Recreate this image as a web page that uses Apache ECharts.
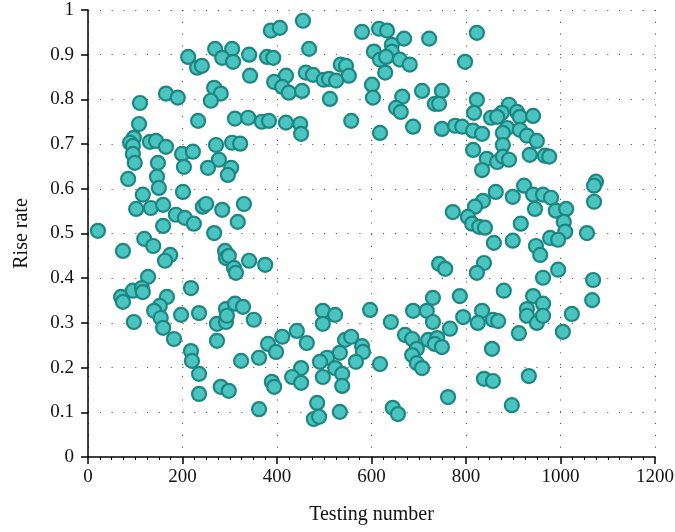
<!DOCTYPE html>
<html>
<head>
<meta charset="utf-8">
<title>Rise rate</title>
<script src="https://cdn.jsdelivr.net/npm/echarts@6/dist/echarts.min.js"></script>
<style>
    html, body { margin: 0; padding: 0; background: #fff; }
    #riseChart { width: 675px; height: 532px; }
</style>
</head>
<body>
<div id="riseChart"></div>
<script>
// x: testing number, y: rise rate
var testingNumber = [
    387, 269, 305, 212, 284, 307, 341, 379, 231, 241, 343, 165, 190, 110, 267, 281, 260, 233, 108, 311,
    339, 368, 383, 97, 89, 95, 95, 131, 144, 165, 199, 222, 271, 305, 322, 277, 148, 406, 455, 468,
    392, 580, 616, 633, 669, 722, 605, 643, 643, 618, 631, 660, 681, 629, 535, 546, 552, 461, 476, 419,
    394, 411, 425, 453, 499, 510, 525, 512, 601, 603, 665, 652, 662, 707, 749, 734, 743, 419, 449, 451,
    557, 618, 688, 749, 777, 823, 798, 823, 817, 891, 876, 853, 866, 908, 914, 942, 792, 815, 834, 887,
    878, 914, 929, 950, 878, 815, 844, 866, 878, 891, 935, 967, 976, 99, 203, 254, 303, 296, 85, 146,
    150, 201, 116, 102, 133, 159, 186, 205, 224, 243, 250, 284, 330, 317, 159, 21, 267, 119, 138, 74,
    174, 163, 290, 292, 298, 309, 313, 341, 375, 127, 218, 70, 74, 95, 114, 116, 167, 152, 140, 197,
    235, 292, 311, 328, 772, 743, 756, 730, 787, 497, 523, 597, 688, 717, 834, 1075, 1071, 1071, 863, 923,
    899, 942, 963, 980, 946, 990, 1012, 1007, 1010, 978, 995, 836, 819, 804, 813, 828, 840, 916, 859, 899,
    948, 957, 1056, 838, 823, 995, 963, 1069, 880, 942, 963, 1067, 834, 929, 1024, 154, 159, 97, 182, 273,
    292, 294, 351, 273, 218, 220, 235, 235, 281, 298, 324, 362, 381, 389, 394, 362, 497, 641, 730, 766,
    442, 411, 398, 463, 544, 557, 580, 582, 567, 533, 506, 491, 618, 671, 686, 696, 686, 696, 707, 720,
    739, 734, 749, 451, 432, 451, 497, 523, 538, 538, 485, 478, 489, 533, 645, 656, 762, 794, 825, 857,
    868, 929, 950, 963, 912, 1005, 855, 838, 857, 933, 897
];
var riseRate = [
    0.954, 0.913, 0.913, 0.895, 0.893, 0.884, 0.900, 0.895, 0.871, 0.875, 0.853, 0.813, 0.804, 0.792, 0.826, 0.813, 0.797, 0.752, 0.745, 0.757,
    0.759, 0.750, 0.752, 0.714, 0.703, 0.696, 0.678, 0.705, 0.707, 0.694, 0.678, 0.683, 0.698, 0.703, 0.701, 0.665, 0.658, 0.960, 0.976, 0.913,
    0.893, 0.951, 0.958, 0.954, 0.936, 0.936, 0.907, 0.922, 0.907, 0.889, 0.895, 0.889, 0.878, 0.860, 0.878, 0.875, 0.853, 0.860, 0.855, 0.853,
    0.839, 0.828, 0.815, 0.819, 0.844, 0.846, 0.842, 0.801, 0.833, 0.804, 0.806, 0.781, 0.772, 0.819, 0.819, 0.790, 0.790, 0.748, 0.745, 0.723,
    0.752, 0.725, 0.739, 0.734, 0.741, 0.949, 0.884, 0.799, 0.770, 0.788, 0.770, 0.759, 0.761, 0.772, 0.761, 0.763, 0.739, 0.730, 0.723, 0.736,
    0.725, 0.732, 0.719, 0.707, 0.698, 0.687, 0.667, 0.660, 0.672, 0.665, 0.676, 0.674, 0.672, 0.658, 0.649, 0.647, 0.647, 0.631, 0.622, 0.627,
    0.602, 0.593, 0.587, 0.555, 0.557, 0.564, 0.542, 0.535, 0.522, 0.560, 0.566, 0.553, 0.566, 0.526, 0.517, 0.506, 0.501, 0.488, 0.472, 0.461,
    0.452, 0.439, 0.461, 0.445, 0.450, 0.423, 0.412, 0.439, 0.430, 0.403, 0.378, 0.358, 0.347, 0.372, 0.378, 0.369, 0.358, 0.338, 0.327, 0.318,
    0.322, 0.331, 0.343, 0.336, 0.548, 0.432, 0.421, 0.356, 0.360, 0.327, 0.318, 0.329, 0.327, 0.327, 0.642, 0.616, 0.607, 0.571, 0.593, 0.607,
    0.582, 0.587, 0.587, 0.580, 0.555, 0.551, 0.555, 0.526, 0.504, 0.490, 0.486, 0.573, 0.560, 0.537, 0.522, 0.515, 0.513, 0.522, 0.479, 0.484,
    0.472, 0.452, 0.501, 0.434, 0.412, 0.419, 0.401, 0.396, 0.372, 0.360, 0.343, 0.351, 0.327, 0.331, 0.320, 0.311, 0.289, 0.302, 0.264, 0.298,
    0.302, 0.316, 0.307, 0.260, 0.237, 0.215, 0.186, 0.141, 0.157, 0.148, 0.215, 0.222, 0.253, 0.168, 0.157, 0.107, 0.298, 0.302, 0.302, 0.287,
    0.282, 0.269, 0.235, 0.255, 0.262, 0.269, 0.248, 0.235, 0.213, 0.233, 0.222, 0.213, 0.208, 0.273, 0.264, 0.242, 0.228, 0.210, 0.199, 0.262,
    0.266, 0.253, 0.246, 0.199, 0.179, 0.166, 0.179, 0.199, 0.186, 0.159, 0.121, 0.085, 0.090, 0.101, 0.110, 0.096, 0.134, 0.313, 0.300, 0.307,
    0.304, 0.316, 0.300, 0.316, 0.277, 0.280, 0.242, 0.175, 0.170, 0.181, 0.116
];
// axis ranges: min, max, interval
var xRange = [0, 1200, 200];
var yRange = [0, 1, 0.1];

var serifFont = '"Liberation Serif", "DejaVu Serif", serif';
var myChart = echarts.init(document.getElementById('riseChart'), null, {renderer: 'canvas'});

// pair the two arrays for the scatter series
var points = [];
for (var i = 0; i < testingNumber.length; i++) {
    points.push([testingNumber[i], riseRate[i]]);
}

// faint dotted grid
var dotted = {color: '#555', width: 1.1, type: [1.1, 10.7]};

var option = {
    backgroundColor: '#ffffff',
    animation: false,
    grid: {left: 88, right: 20, top: 10, bottom: 75, containLabel: false, outerBoundsMode: 'none'},
    xAxis: {
        type: 'value',
        min: xRange[0], max: xRange[1], interval: xRange[2],
        name: 'Testing number',
        nameLocation: 'middle',
        nameGap: 48,
        nameTextStyle: {fontFamily: serifFont, fontSize: 20, color: '#111'},
        axisLine: {show: true, onZero: false, lineStyle: {color: '#000', width: 1.5}},
        axisTick: {show: true, inside: false, length: 7, lineStyle: {color: '#000', width: 1.5}},
        minorTick: {show: true, splitNumber: 8, length: 3, lineStyle: {color: '#000', width: 1}},
        axisLabel: {
            fontFamily: serifFont, fontSize: 19, color: '#111', margin: 11,
            formatter: function (v) { return String(v); }   // no thousands comma
        },
        splitLine: {show: true, lineStyle: dotted}
    },
    yAxis: {
        type: 'value',
        min: yRange[0], max: yRange[1], interval: yRange[2],
        name: 'Rise rate',
        nameLocation: 'middle',
        nameGap: 56,
        nameTextStyle: {fontFamily: serifFont, fontSize: 20, color: '#111'},
        axisLine: {show: true, onZero: false, lineStyle: {color: '#000', width: 1.5}},
        axisTick: {show: true, inside: false, length: 7, lineStyle: {color: '#000', width: 1.5}},
        axisLabel: {
            fontFamily: serifFont, fontSize: 19, color: '#111', margin: 14,
            formatter: function (v) { return String(parseFloat(v.toFixed(1))); }
        },
        splitLine: {show: true, lineStyle: dotted}
    },
    series: [
        {
            name: 'Rise rate',
            type: 'scatter',
            symbol: 'circle',
            symbolSize: 14,
            data: points,
            itemStyle: {color: '#4bc4c0', borderColor: '#1c8782', borderWidth: 2.2, opacity: 1},
            emphasis: {disabled: true}
        }
    ]
};
myChart.setOption(option);
</script>
</body>
</html>
